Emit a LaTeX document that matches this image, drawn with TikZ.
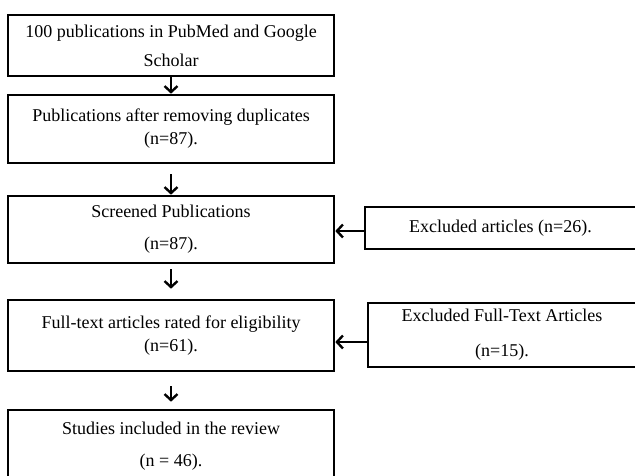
\documentclass[tikz,border=0pt]{standalone}
\usepackage{fontspec}
\setmainfont{Liberation Serif}
\usetikzlibrary{arrows.meta}

\begin{document}
\begin{tikzpicture}[x=1pt, y=-1pt,
    box/.style={draw, line width=2.6pt, align=center, inner sep=0pt,
                font=\fontsize{18}{23}\selectfont},
    flow/.style={-{Straight Barb[length=6pt, width=13pt]}, line width=2.4pt}
  ]
    \useasboundingbox (0,0) rectangle (635,475);
    % main column
    \node[box, minimum width=326pt, minimum height=61pt] (pub) at (171,45.5) {
      100 publications in PubMed and Google\\[6pt]Scholar};
    \node[box, minimum width=326pt, minimum height=68pt] (dedup) at (171,129) {
      Publications after removing duplicates\\(n=87).};
    \node[box, minimum width=326pt, minimum height=67pt] (screen) at (171,229.5) {
      Screened Publications\\[9pt](n=87).};
    \node[box, minimum width=326pt, minimum height=71pt] (full) at (171,335.5) {
      Full-text articles rated for eligibility\\(n=61).};
    \node[box, minimum width=326pt, minimum height=72pt] (incl) at (171,446) {
      Studies included in the review\\[9pt](n = 46).};
    % exclusions
    \node[box, minimum width=271pt, minimum height=42pt] (excl) at (500.5,228) {
      Excluded articles (n=26).};
    \node[box, minimum width=268pt, minimum height=64pt] (exclft) at (502,335) {
      Excluded Full-Text Articles\\[12pt](n=15).};
    \draw[flow] (pub) -- (dedup);
    \draw[flow, shorten <=10pt] (dedup) -- (screen);
    \draw[flow, shorten <=5pt, shorten >=10pt] (screen) -- (full);
    \draw[flow, shorten <=14pt, shorten >=7pt] (full) -- (incl);
    \draw[flow] ([yshift=-3pt]excl.west) -- ([yshift=-3pt]excl.west -| screen.east);
    \draw[flow] ([yshift=-7pt]exclft.west) -- ([yshift=-7pt]exclft.west -| full.east);
  \end{tikzpicture}
\end{document}
